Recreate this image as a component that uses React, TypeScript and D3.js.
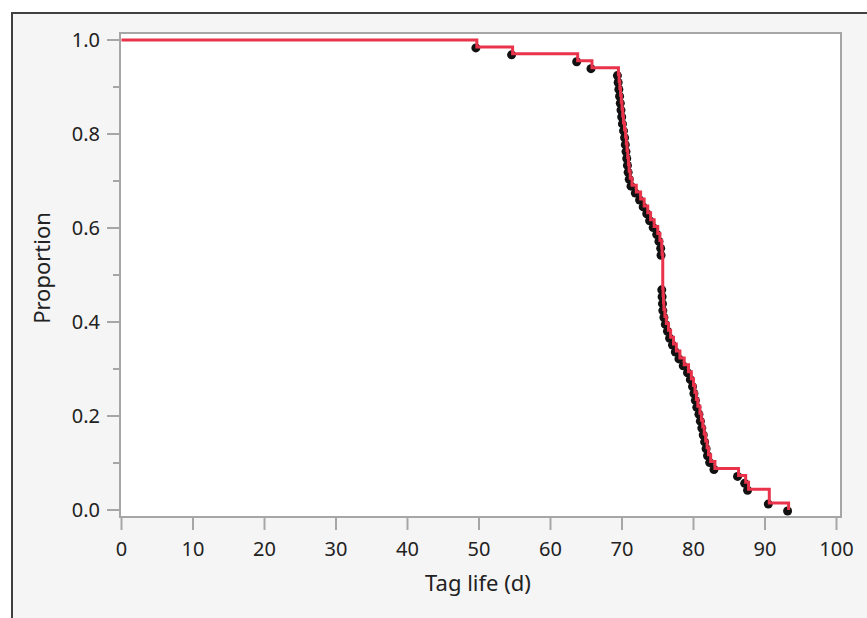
import React from "react";
import * as d3 from "d3";

// Failure times (days) for each tagged subject
const failureTimes: number[] = [
  49.7, 54.7, 63.8, 65.8,
  69.5, 69.6, 69.7, 69.8, 69.9, 70.0, 70.1, 70.2, 70.35, 70.5, 70.6, 70.7, 70.8, 70.9, 71.0, 71.15, 71.4,
  72.0, 72.6, 73.1, 73.6, 74.0, 74.5, 75.0, 75.3,
  75.55, 75.6, 75.7, 75.7, 75.7, 75.7, 75.7, 75.75, 75.8, 75.85,
  76.0, 76.2, 76.5, 76.8, 77.2, 77.6, 78.1, 78.7, 79.3, 79.7, 80.0, 80.2, 80.4, 80.6, 80.9,
  81.1, 81.3, 81.5, 81.7, 81.9, 82.1, 82.4, 83.0,
  86.3, 87.3, 87.7, 90.6, 90.6, 93.3,
];

const xTicks: number[] = [0, 10, 20, 30, 40, 50, 60, 70, 80, 90, 100];
const yMajorTicks: number[] = [0, 0.2, 0.4, 0.6, 0.8, 1.0];
const yMinorTicks: number[] = [0.1, 0.3, 0.5, 0.7, 0.9];
const xTitle = "Tag life (d)";
const yTitle = "Proportion";

const W = 867;
const H = 618;
const plot = { left: 120, top: 33, right: 841, bottom: 517 };

export default function App() {
  const x = d3.scaleLinear().domain([0, 100]).range([121.5, 836.5]);
  const y = d3.scaleLinear().domain([0, 1]).range([510, 40]);

  // Kaplan-Meier (no censoring)
  const n = failureTimes.length;
  const sorted = [...failureTimes].sort((a, b) => a - b);
  const uniq = Array.from(new Set(sorted));
  const steps: { t: number; s: number }[] = [{ t: 0, s: 1 }];
  let atRisk = n;
  let s = 1;
  uniq.forEach((t) => {
    const d = sorted.filter((v) => v === t).length;
    s = s * (1 - d / atRisk);
    atRisk -= d;
    steps.push({ t, s });
  });

  const line = d3
    .line<{ t: number; s: number }>()
    .x((d) => x(d.t))
    .y((d) => y(d.s))
    .curve(d3.curveStepAfter);

  const font = "'Noto Sans', 'Open Sans', sans-serif";
  const textColor = "#222";
  const axisColor = "#a6a6a6";

  return (
    <svg
      width={W}
      height={H}
      style={{ position: "absolute", left: 0, top: 0 }}
      fontFamily={font}
    >
      <rect x={0} y={0} width={W} height={H} fill="#ffffff" />
      <rect x={12} y={13} width={W + 10} height={H + 10} fill="#f5f5f5" stroke="#404040" strokeWidth={2} />
      <rect
        x={plot.left}
        y={plot.top}
        width={plot.right - plot.left}
        height={plot.bottom - plot.top}
        fill="#ffffff"
        stroke={axisColor}
        strokeWidth={2}
      />
      {/* y ticks */}
      {yMajorTicks.map((v) => (
        <g key={"ym" + v}>
          <line x1={107} x2={plot.left} y1={y(v)} y2={y(v)} stroke={axisColor} strokeWidth={2} />
          <text x={100} y={y(v)} dy="0.36em" textAnchor="end" fontSize={20} fill={textColor}>
            {v.toFixed(1)}
          </text>
        </g>
      ))}
      {yMinorTicks.map((v) => (
        <line key={"yn" + v} x1={113} x2={plot.left} y1={y(v)} y2={y(v)} stroke={axisColor} strokeWidth={2} />
      ))}
      {/* x ticks */}
      {xTicks.map((v) => (
        <g key={"x" + v}>
          <line x1={x(v)} x2={x(v)} y1={plot.bottom} y2={530} stroke={axisColor} strokeWidth={2} />
          <text x={x(v)} y={549} dy="0.36em" textAnchor="middle" fontSize={20} fill={textColor}>
            {v}
          </text>
        </g>
      ))}
      <text x={478} y={583} dy="0.36em" textAnchor="middle" fontSize={22} fill={textColor}>
        {xTitle}
      </text>
      <text
        transform={`translate(42,268) rotate(-90)`}
        dy="0.36em"
        textAnchor="middle"
        fontSize={22}
        fill={textColor}
      >
        {yTitle}
      </text>
      {/* markers */}
      {steps.slice(1).map((d, i) => (
        <circle key={"p" + i} cx={x(d.t) - 1} cy={y(d.s) + 1} r={4.5} fill="#111" />
      ))}
      <path d={line(steps) || ""} fill="none" stroke="#e8334a" strokeWidth={3} />
    </svg>
  );
}
